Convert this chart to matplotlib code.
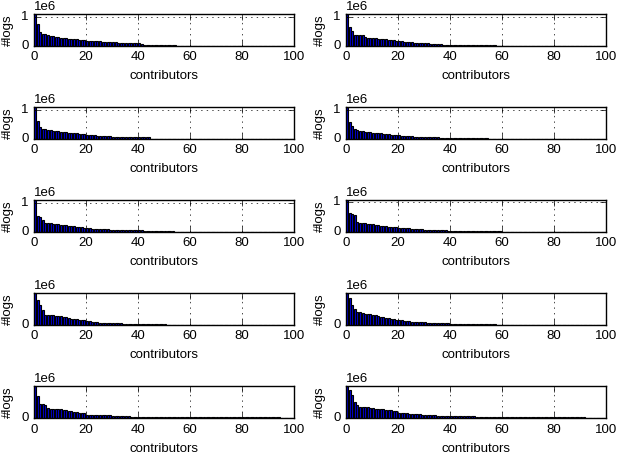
#!/usr/bin/env python3
"""Grid of #logs per contributor bar charts (10 panels)."""
import numpy as np
import matplotlib
matplotlib.use("Agg")
import matplotlib.pyplot as plt

# logs per contributor, in thousands, ranked (left/right column, rows 1..5)
logs_r1_left = [
    1100, 760, 480, 400, 390, 360, 340, 320, 300, 285,
    270, 260, 250, 240, 230, 220, 212, 205, 198, 190,
    175, 170, 165, 158, 150, 145, 138, 132, 125, 120,
    112, 108, 104, 100, 92, 90, 88, 85, 82, 80,
    78, 38, 36, 35, 34, 33, 32, 31, 30, 30,
    29, 28, 27, 26, 25, 0, 0, 0, 0, 0,
    0, 0, 0, 0, 0, 0, 0, 0, 0, 0,
    0, 0, 0, 0, 0, 0, 0, 0, 0, 0,
    0, 0, 0, 0, 0, 0, 0, 0, 0, 0,
    0, 0, 0, 0, 0, 0, 0, 0, 0, 0]
logs_r1_right = [
    1100, 660, 510, 380, 370, 360, 355, 290, 280, 275,
    265, 255, 245, 235, 225, 215, 205, 195, 185, 175,
    160, 150, 140, 130, 120, 110, 100, 95, 90, 85,
    80, 75, 70, 65, 62, 60, 58, 35, 34, 34,
    33, 33, 32, 32, 31, 31, 30, 30, 29, 29,
    28, 28, 27, 27, 26, 26, 25, 25, 0, 0,
    0, 0, 0, 0, 0, 0, 0, 0, 0, 0,
    0, 0, 0, 0, 0, 0, 0, 0, 0, 0,
    0, 0, 0, 0, 0, 0, 0, 0, 0, 0,
    0, 0, 0, 0, 0, 0, 0, 0, 0, 0]
logs_r2_left = [
    1100, 620, 390, 330, 320, 310, 290, 275, 265, 255,
    245, 235, 225, 215, 205, 195, 185, 175, 165, 155,
    145, 135, 125, 115, 108, 100, 95, 90, 85, 80,
    55, 54, 53, 52, 51, 50, 49, 48, 47, 46,
    45, 44, 43, 42, 41, 0, 0, 0, 0, 0,
    0, 0, 0, 0, 0, 0, 0, 0, 0, 0,
    0, 0, 0, 0, 0, 0, 0, 0, 0, 0,
    0, 0, 0, 0, 0, 0, 0, 0, 0, 0,
    0, 0, 0, 0, 0, 0, 0, 0, 0, 0,
    0, 0, 0, 0, 0, 0, 0, 0, 0, 0]
logs_r2_right = [
    1100, 580, 450, 350, 300, 280, 260, 245, 235, 225,
    215, 205, 195, 185, 175, 165, 155, 145, 135, 125,
    118, 110, 100, 92, 85, 80, 75, 70, 65, 60,
    58, 55, 52, 50, 48, 45, 30, 29, 28, 28,
    27, 27, 26, 25, 25, 24, 24, 23, 22, 22,
    21, 20, 20, 19, 18, 0, 0, 0, 0, 0,
    0, 0, 0, 0, 0, 0, 0, 0, 0, 0,
    0, 0, 0, 0, 0, 0, 0, 0, 0, 0,
    0, 0, 0, 0, 0, 0, 0, 0, 0, 0,
    0, 0, 0, 0, 0, 0, 0, 0, 0, 0]
logs_r3_left = [
    1100, 560, 500, 420, 310, 300, 290, 280, 270, 260,
    250, 240, 230, 210, 200, 190, 175, 165, 150, 140,
    125, 118, 110, 105, 100, 92, 88, 84, 80, 75,
    70, 68, 66, 64, 62, 60, 58, 55, 52, 50,
    48, 45, 44, 43, 42, 40, 38, 36, 35, 34,
    33, 32, 31, 30, 0, 0, 0, 0, 0, 0,
    0, 0, 0, 0, 0, 0, 0, 0, 0, 0,
    0, 0, 0, 0, 0, 0, 0, 0, 0, 0,
    0, 0, 0, 0, 0, 0, 0, 0, 0, 0,
    0, 0, 0, 0, 0, 0, 0, 0, 0, 0]
logs_r3_right = [
    1050, 620, 580, 550, 310, 300, 290, 280, 270, 260,
    250, 235, 220, 205, 195, 185, 175, 165, 155, 150,
    140, 130, 120, 115, 110, 105, 100, 98, 95, 92,
    70, 68, 66, 64, 62, 60, 58, 56, 54, 35,
    34, 34, 33, 33, 32, 32, 31, 31, 30, 30,
    29, 29, 28, 28, 27, 27, 26, 26, 25, 25,
    0, 0, 0, 0, 0, 0, 0, 0, 0, 0,
    0, 0, 0, 0, 0, 0, 0, 0, 0, 0,
    0, 0, 0, 0, 0, 0, 0, 0, 0, 0,
    0, 0, 0, 0, 0, 0, 0, 0, 0, 0]
logs_r4_left = [
    850, 680, 540, 400, 265, 262, 258, 255, 250, 245,
    240, 220, 200, 180, 170, 160, 150, 140, 130, 125,
    100, 95, 90, 85, 80, 50, 48, 46, 45, 44,
    43, 42, 41, 40, 30, 29, 28, 28, 27, 27,
    26, 26, 25, 25, 24, 24, 23, 23, 22, 22,
    21, 0, 0, 0, 0, 0, 0, 0, 0, 0,
    0, 0, 0, 0, 0, 0, 0, 0, 0, 0,
    0, 0, 0, 0, 0, 0, 0, 0, 0, 0,
    0, 0, 0, 0, 0, 0, 0, 0, 0, 0,
    0, 0, 0, 0, 0, 0, 0, 0, 0, 0]
logs_r4_right = [
    850, 720, 530, 430, 350, 340, 330, 300, 290, 280,
    265, 255, 240, 225, 210, 195, 180, 165, 150, 140,
    130, 120, 110, 100, 95, 90, 85, 80, 75, 70,
    65, 60, 57, 54, 51, 48, 45, 42, 40, 38,
    36, 34, 32, 30, 29, 28, 27, 26, 25, 24,
    23, 22, 21, 20, 20, 19, 19, 18, 0, 0,
    0, 0, 0, 0, 0, 0, 0, 0, 0, 0,
    0, 0, 0, 0, 0, 0, 0, 0, 0, 0,
    0, 0, 0, 0, 0, 0, 0, 0, 0, 0,
    0, 0, 0, 0, 0, 0, 0, 0, 0, 0]
logs_r5_left = [
    830, 580, 360, 360, 355, 250, 248, 245, 242, 235,
    230, 215, 200, 185, 180, 170, 160, 130, 125, 120,
    90, 88, 86, 84, 82, 80, 78, 76, 74, 72,
    45, 44, 43, 42, 41, 40, 40, 39, 38, 38,
    37, 37, 36, 36, 35, 35, 19, 19, 19, 19,
    19, 19, 18, 18, 18, 18, 18, 18, 18, 18,
    18, 18, 17, 17, 17, 17, 17, 17, 17, 17,
    17, 17, 17, 16, 16, 16, 16, 16, 16, 16,
    16, 16, 16, 16, 16, 15, 15, 15, 15, 15,
    15, 15, 15, 15, 15, 0, 0, 0, 0, 0]
logs_r5_right = [
    820, 720, 600, 410, 345, 290, 285, 280, 275, 270,
    265, 245, 235, 230, 225, 220, 215, 200, 190, 180,
    130, 125, 120, 118, 115, 110, 105, 100, 95, 90,
    85, 80, 75, 70, 65, 60, 58, 55, 52, 50,
    50, 49, 48, 47, 46, 45, 44, 43, 42, 41,
    21, 21, 21, 20, 20, 20, 20, 20, 20, 20,
    19, 19, 19, 19, 19, 19, 19, 19, 19, 18,
    18, 18, 18, 18, 18, 18, 18, 18, 17, 17,
    17, 17, 17, 17, 17, 17, 17, 17, 16, 16,
    16, 16, 0, 0, 0, 0, 0, 0, 0, 0]

panels = [
    [logs_r1_left, logs_r1_right],
    [logs_r2_left, logs_r2_right],
    [logs_r3_left, logs_r3_right],
    [logs_r4_left, logs_r4_right],
    [logs_r5_left, logs_r5_right],
]
x_ticks = [0, 20, 40, 60, 80, 100]


def main():
    plt.style.use("classic")
    plt.rcParams["figure.facecolor"] = "white"
    plt.rcParams["savefig.facecolor"] = "white"
    plt.rcParams["font.family"] = ["Liberation Sans", "DejaVu Sans"]
    plt.rcParams["font.size"] = 9.5

    fig, axes = plt.subplots(5, 2, figsize=(6.17, 4.58), dpi=100)
    fig.subplots_adjust(left=34 / 617, right=606 / 617,
                        top=1 - 14 / 458, bottom=1 - 418 / 458,
                        wspace=0.2, hspace=1.95)

    for r, row in enumerate(panels):
        for c, vals in enumerate(row):
            ax = axes[r, c]
            y = np.array(vals) * 1000.0
            x = np.arange(len(y))
            ax.bar(x, y, width=0.8, align="edge", color=(0, 0, 0.85),
                   edgecolor="k", linewidth=0.8)
            ax.set_xticks(x_ticks)
            ax.set_yticks([0, 1e6])
            # limits after the ticks, so the ticks do not widen them
            ax.set_xlim(0, 100)
            ax.set_ylim(0, y.max())
            ax.ticklabel_format(axis="y", style="sci", scilimits=(6, 6))
            ax.grid(True, linestyle=":", color="k", linewidth=0.5)
            ax.set_xlabel("contributors")
            ax.set_ylabel("#logs")
            ax.tick_params(labelsize=9.5)

    plt.savefig("out.png", dpi=100)


if __name__ == "__main__":
    main()
